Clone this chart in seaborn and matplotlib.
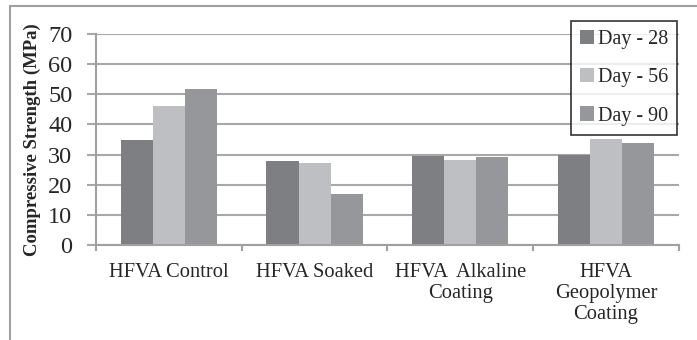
import pandas as pd
import numpy as np
import matplotlib
matplotlib.use("Agg")
import matplotlib.pyplot as plt
import seaborn as sns
from matplotlib.patches import Rectangle

categories = ["HFVA Control", "HFVA Soaked", "HFVA  Alkaline\nCoating", "HFVA\nGeopolymer\nCoating"]
day_28 = [35.0, 28.0, 29.4, 30.0]
day_56 = [46.2, 27.2, 28.3, 35.3]
day_90 = [51.8, 17.0, 29.1, 33.7]
series = ["Day - 28", "Day - 56", "Day - 90"]
colors = ["#7e7f83", "#bebfc3", "#96979b"]

rows = []
for name, vals in zip(series, [day_28, day_56, day_90]):
    for c, v in zip(categories, vals):
        rows.append({"Mix": c, "Day": name, "Strength": v})
df = pd.DataFrame(rows)

sns.set_style("white")
plt.rcParams["font.family"] = ["Liberation Serif", "DejaVu Serif"]

fig = plt.figure(figsize=(6.97, 3.40), dpi=100)
ax = fig.add_axes([0.1377, 0.2794, 0.8363, 0.6206])

sns.barplot(data=df, x="Mix", y="Strength", hue="Day", palette=colors,
            width=0.66, gap=0, saturation=1, linewidth=0, ax=ax)

ax.set_ylim(0, 70)
ax.set_xlim(-0.5, 3.5)
ax.set_yticks(np.arange(0, 71, 10))
ax.yaxis.grid(True, color="#a8a8a8", linewidth=1.5)
ax.set_axisbelow(True)
for s in ["top", "right"]:
    ax.spines[s].set_visible(False)
for s in ["left", "bottom"]:
    ax.spines[s].set_color("#a0a0a0")
    ax.spines[s].set_linewidth(1.5)

ax.tick_params(axis="y", which="major", length=6.5, width=1.5, color="#a8a8a8",
               labelsize=17.5, pad=10.5, left=True)
ax.set_xticks(range(len(categories)))
ax.set_xticklabels(categories, fontsize=14.8, linespacing=1.15)
ax.tick_params(axis="x", which="major", length=0, pad=13)
ax.set_xticks([-0.5, 0.5, 1.5, 2.5, 3.5], minor=True)
ax.tick_params(axis="x", which="minor", length=4, width=1.5, color="#a0a0a0", bottom=True)

ax.set_xlabel("")
ax.set_ylabel("Compressive Strength (MPa)", fontsize=13.5, fontweight="bold", labelpad=5)

leg = ax.legend(loc="upper right", bbox_to_anchor=(0.997, 1.062), fontsize=14.5,
                frameon=True, fancybox=False, handlelength=0.7, handleheight=0.7,
                handletextpad=0.2, labelspacing=0.95, borderpad=0.45,
                borderaxespad=0)
leg.get_frame().set_edgecolor("black")
leg.get_frame().set_linewidth(1.2)

fig.patches.append(Rectangle((10 / 697, -0.1), 1.2, 1 - 6 / 340 + 0.1,
                             transform=fig.transFigure, fill=False,
                             edgecolor="#a0a0a0", linewidth=1.5))

fig.savefig("out.png", dpi=100)
